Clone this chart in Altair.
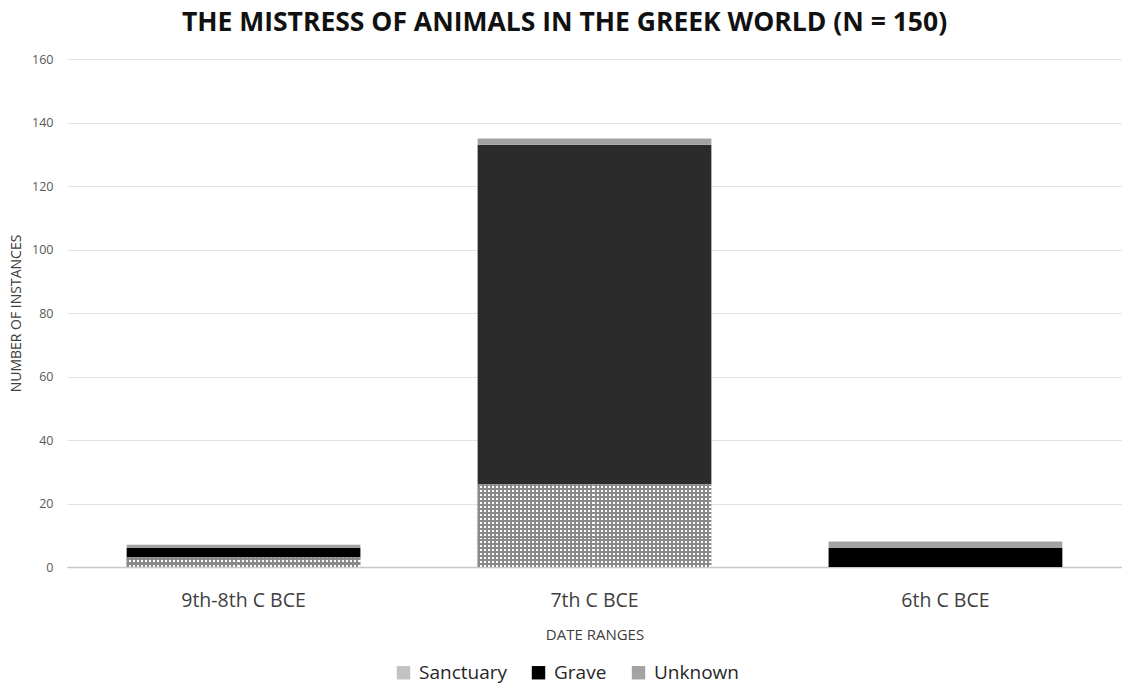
import altair as alt
import pandas as pd

categories = ["9th-8th C BCE", "7th C BCE", "6th C BCE"]
series = ["Sanctuary", "Grave", "Unknown"]
sanctuary = [3, 26, 0]
grave = [3, 107, 6]
unknown = [1, 2, 2]
colors = ["#c2c2c2", "#000000", "#a3a3a3"]
y_ticks = [0, 20, 40, 60, 80, 100, 120, 140, 160]

rows = []
for i, c in enumerate(categories):
    for j, (s, vals) in enumerate(zip(series, [sanctuary, grave, unknown])):
        rows.append({"category": c, "type": s, "order": j, "value": vals[i]})
df = pd.DataFrame(rows)

font = "Open Sans"
W, H = 1055, 508
YMAX = 160
PERIOD = 4.0
HATCH = "#8a8a8a"
CLEAR = "rgba(255,255,255,0)"


def stripes(n, base, horizontal):
    stops = []
    for k in range(n):
        a, b, c = k / n, (k + 0.5) / n, (k + 1) / n
        stops += [alt.GradientStop(offset=a, color=HATCH),
                  alt.GradientStop(offset=b, color=HATCH),
                  alt.GradientStop(offset=b, color=base),
                  alt.GradientStop(offset=c, color=base)]
    if horizontal:
        return alt.Gradient(gradient="linear", stops=stops, x1=0, x2=0, y1=0, y2=1)
    return alt.Gradient(gradient="linear", stops=stops, x1=0, x2=1, y1=0, y2=0)


x_enc = alt.X("category:N", sort=categories,
              scale=alt.Scale(paddingInner=0.334, paddingOuter=0.17),
              axis=alt.Axis(title="DATE RANGES", labelAngle=0, labelFontSize=19.5,
                            labelColor="#404040", labelFont=font, labelPadding=24,
                            titleFont=font, titleFontSize=15, titleFontWeight="normal",
                            titleColor="#404040", titlePadding=18,
                            domainColor="#c8c8c8", domainWidth=1.5, ticks=False))

base = alt.Chart(df).mark_bar().encode(
    x=x_enc,
    y=alt.Y("value:Q", stack="zero",
            scale=alt.Scale(domain=[0, YMAX]),
            axis=alt.Axis(title="NUMBER OF INSTANCES", values=y_ticks,
                          labelFont=font, labelFontSize=12.5, labelColor="#595959",
                          labelPadding=14, titleFont=font, titleFontSize=14,
                          titleFontWeight="normal", titleColor="#404040",
                          titlePadding=8, gridColor="#e3e3e3", domain=False,
                          ticks=False)),
    color=alt.condition(
        "datum.category == '7th C BCE' && datum.type == 'Grave'",
        alt.value("#2b2b2b"),
        alt.Color("type:N", sort=series,
                  scale=alt.Scale(domain=series, range=colors),
                  legend=alt.Legend(title=None, orient="none", direction="horizontal",
                                    legendX=327, legendY=604, labelFont=font,
                                    labelFontSize=19, labelColor="#262626",
                                    symbolType="square", symbolSize=180,
                                    symbolStrokeWidth=0, columnPadding=22,
                                    labelOffset=6)),
    ),
    order=alt.Order("order:Q"),
)

sdf = df[(df["type"] == "Sanctuary") & (df["value"] > 0)]
band_px = W / (3 - 0.334 + 2 * 0.17) * (1 - 0.334)
n_vert = int(round(band_px / PERIOD))

layers = [base,
          alt.Chart(sdf).mark_bar(color=stripes(n_vert, "#ffffff", False)).encode(
              x=alt.X("category:N", sort=categories), y=alt.Y("value:Q", stack=None))]
for _, r in sdf.iterrows():
    n_h = max(1, int(round(r["value"] * H / YMAX / PERIOD)))
    layers.append(
        alt.Chart(sdf[sdf["category"] == r["category"]]).mark_bar(
            color=stripes(n_h, CLEAR, True)).encode(
            x=alt.X("category:N", sort=categories), y=alt.Y("value:Q", stack=None)))

chart = alt.layer(*layers).properties(
    width=W,
    height=H,
    title=alt.TitleParams("THE MISTRESS OF ANIMALS IN THE GREEK WORLD (N = 150)",
                          font=font, fontSize=26.5, fontWeight="bold", color="#111111",
                          anchor="middle", offset=17, dx=-30),
    autosize=alt.AutoSizeParams(type="none"),
    padding={"left": 67, "top": 59, "right": 0, "bottom": 121},
).configure_view(stroke=None)

chart.save("out.html", embed_options={"renderer": "svg", "actions": False})
